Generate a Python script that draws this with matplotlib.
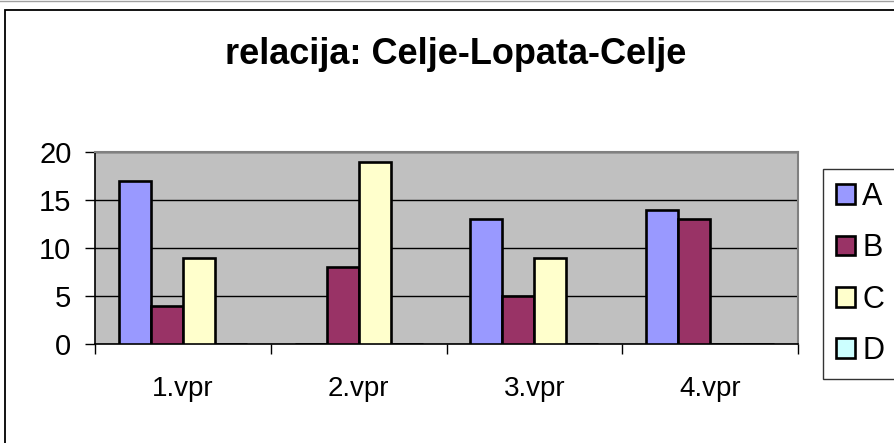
import matplotlib
matplotlib.use("Agg")
import matplotlib.pyplot as plt
import numpy as np
from matplotlib.patches import Rectangle
from matplotlib.lines import Line2D

plt.rcParams['font.family'] = ['Liberation Sans', 'DejaVu Sans']

title = "relacija: Celje-Lopata-Celje"
categories = ["1.vpr", "2.vpr", "3.vpr", "4.vpr"]
series_names = ["A", "B", "C", "D"]
values_A = [17, 0, 13, 14]
values_B = [4, 8, 5, 13]
values_C = [9, 19, 9, 0]
values_D = [0, 0, 0, 0]
series_values = [values_A, values_B, values_C, values_D]
colors = ["#9999FF", "#993366", "#FFFFCC", "#CCFFFF"]
yticks = [0, 5, 10, 15, 20]

W, H = 895, 443
fig = plt.figure(figsize=(W / 100, H / 100), dpi=100)
fig.patch.set_facecolor("white")

# outer chart border
fig.add_artist(Line2D([0, 1], [1 - 0.5 / H, 1 - 0.5 / H], transform=fig.transFigure,
                      color="#A0A0A0", lw=1))
fig.add_artist(Rectangle((5 / W, -0.05), 1.2, 1 - 10 / H + 0.05, transform=fig.transFigure,
                         fill=False, edgecolor="black", lw=1.3))

ax = fig.add_axes([95 / W, 1 - 344 / H, (798 - 95) / W, (344 - 152) / H])
ax.set_facecolor("#C0C0C0")

x = np.arange(len(categories))
bw = 1 / 5.5
n = len(series_names)
for i, (name, vals, col) in enumerate(zip(series_names, series_values, colors)):
    offs = (i - (n - 1) / 2) * bw
    ax.bar(x + offs, vals, width=bw, color=col, edgecolor="black", linewidth=1.9,
           label=name, zorder=3)

ax.set_xlim(-0.5, len(categories) - 0.5)
ax.set_ylim(0, 20)
ax.set_yticks(yticks)
ax.set_yticklabels([str(t) for t in yticks], fontsize=21)
ax.yaxis.grid(True, color="black", lw=1, zorder=1)
ax.set_axisbelow(True)

ax.set_xticks(x)
ax.set_xticklabels(categories, fontsize=20)
ax.set_xticks(np.arange(-0.5, len(categories)), minor=True)
ax.tick_params(axis="x", which="major", length=0, pad=23)
ax.tick_params(axis="x", which="minor", length=7, width=1, direction="out", color="black")
ax.tick_params(axis="y", length=7, width=1, direction="out", pad=10)

for s in ["top", "right"]:
    ax.spines[s].set_color("#808080")
    ax.spines[s].set_linewidth(1.5)
for s in ["left", "bottom"]:
    ax.spines[s].set_color("black")
    ax.spines[s].set_linewidth(1.2)

fig.text(456 / W, 1 - 55 / H, title, ha="center", va="center", fontsize=26,
         fontweight="bold")

leg = ax.legend(loc="upper left", bbox_to_anchor=(823 / W, 1 - 169 / H),
                bbox_transform=fig.transFigure, fontsize=22, frameon=True,
                fancybox=False, handlelength=0.62, handleheight=0.62,
                handletextpad=0.25, labelspacing=0.7, borderpad=0.42,
                borderaxespad=0)
leg.get_frame().set_edgecolor("black")
leg.get_frame().set_linewidth(1)

fig.savefig("out.png", dpi=100)
